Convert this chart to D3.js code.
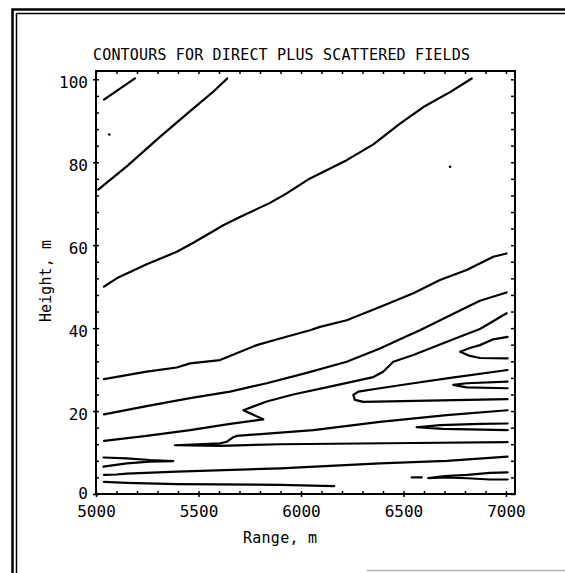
<!DOCTYPE html>
<html lang="en">
<head>
<meta charset="UTF-8">
<title>Contours for direct plus scattered fields</title>
<script src="https://d3js.org/d3.v7.min.js"></script>
<style>
  html, body { margin: 0; padding: 0; background: #fff; }
  svg { display: block; }
  text { font-family: 'DejaVu Sans Mono', 'Liberation Mono', monospace; fill: #000; }
</style>
</head>
<body>
<svg id="chart" width="565" height="573"></svg>
<script>
// axes
const rangeDomain = [5000, 7044];
const heightDomain = [0, 102];
const rangeTicks = [5000, 5500, 6000, 6500, 7000];
const heightTicks = [0, 20, 40, 60, 80, 100];
const rangeMinor = d3.range(5000, 7001, 100);
const heightMinor = d3.range(0, 101, 4);

// contour traces, [range m, height m]
const cTopLeft = [[5039,95.1],[5110,97.5],[5190,100.2]];
const c73 = [[5011,73.4],[5150,79.0],[5312,86.1],[5475,93.0],[5572,97.0],[5640,100.2]];
const c50 = [[5039,50.0],[5101,52.0],[5247,55.4],[5394,58.4],[5475,60.6],[5621,64.8],[5702,66.8],
  [5849,70.2],[5930,72.5],[6044,76.1],[6223,80.5],[6353,84.3],[6483,89.3],[6597,93.3],[6727,96.9],[6833,100.2]];
const c28 = [[5039,27.7],[5247,29.5],[5394,30.5],[5459,31.5],[5605,32.3],[5784,35.9],[5898,37.5],[6044,39.5],
  [6093,40.3],[6223,41.9],[6385,45.1],[6548,48.4],[6678,51.6],[6808,54.0],[6938,57.2],[7003,58.0]];
const c19 = [[5039,19.2],[5247,21.2],[5459,23.1],[5654,24.7],[5833,26.7],[6028,29.2],[6223,31.9],[6385,35.1],
  [6483,37.3],[6580,39.5],[6711,42.7],[6873,46.6],[7003,48.6]];
const c13 = [[5039,12.8],[5247,14.0],[5459,15.4],[5654,16.9],[5816,18.0],[5719,20.2],[5833,22.3],[5962,24.0],
  [6141,25.9],[6353,28.2],[6401,29.5],[6450,31.9],[6548,33.5],[6743,37.3],[6873,39.8],[7003,43.6]];
const c12 = [[7008,20.2],[6711,19.0],[6385,17.4],[6060,15.4],[5686,14.0],[5670,13.7],[5638,12.6],[5605,12.2],
  [5385,11.75],[5605,11.6],[5898,12.0],[6548,12.3],[7008,12.5]];
const cWedge = [[5036,8.8],[5150,8.6],[5263,8.2],[5377,7.95],[5263,7.8],[5150,7.4],[5036,6.6]];
const c5 = [[5039,4.6],[5100,4.7],[5150,4.9],[5394,5.4],[5898,6.2],[6385,7.4],[6711,8.0],[7008,9.0]];
const c3 = [[5039,2.9],[5150,2.7],[5394,2.4],[5898,2.2],[6162,1.9]];
const hook35 = [[7008,37.9],[6938,37.3],[6873,35.9],[6824,35.2],[6776,34.3],[6824,33.3],[6873,32.8],[7008,32.7]];
const hook26 = [[7008,27.1],[6808,26.7],[6743,26.3],[6808,25.7],[7008,25.5]];
const hook24 = [[7008,29.9],[6711,27.9],[6548,26.7],[6385,25.5],[6280,24.7],[6255,23.9],[6263,22.7],[6304,22.2],[7008,22.9]];
const hook16 = [[7008,17.0],[6873,16.9],[6678,16.6],[6564,16.1],[6692,15.7],[7008,15.4]];
const hook4 = [[7008,5.2],[6922,5.1],[6810,4.6],[6702,4.3],[6621,3.85],[6702,4.0],[6810,3.8],[6922,3.5],[7008,3.5]];
const dash4 = [[6540,4.0],[6589,4.0]];
const specks = [[5065,86.7],[6727,78.9]];

const contours = [cTopLeft, c73, c50, c28, c19, c13, c12, cWedge, c5, c3, hook35, hook26, hook24, hook16, hook4, dash4];

const svg = d3.select("#chart");
const plotLeft = 96, plotRight = 515, plotTop = 71, plotBottom = 494;

const x = d3.scaleLinear().domain(rangeDomain).range([plotLeft, plotRight]);
const y = d3.scaleLinear().domain(heightDomain).range([plotBottom, plotTop]);

// outer double border of the scanned page
svg.append("path").attr("d", "M12.5,573V9.5H565").attr("fill", "none").attr("stroke", "#000").attr("stroke-width", 2.5);
svg.append("path").attr("d", "M16.5,573V13.5H565").attr("fill", "none").attr("stroke", "#000").attr("stroke-width", 1.5);
svg.append("line").attr("x1", 367).attr("x2", 565).attr("y1", 570.5).attr("y2", 570.5)
  .attr("stroke", "#b5b5b5").attr("stroke-width", 1.5);

// title
svg.append("text")
  .attr("x", 281.5).attr("y", 60)
  .attr("text-anchor", "middle")
  .attr("font-size", 15)
  .attr("textLength", 377).attr("lengthAdjust", "spacing")
  .text("CONTOURS FOR DIRECT PLUS SCATTERED FIELDS");

// minor ticks, pointing into the plot on all sides
function clean(g) {
  g.select(".domain").remove();
  g.selectAll("line").attr("stroke", "#000").attr("stroke-width", 1.5);
}
svg.append("g").attr("transform", `translate(0,${plotBottom})`)
  .call(d3.axisBottom(x).tickValues(rangeMinor).tickSize(-3).tickFormat("")).call(clean);
svg.append("g").attr("transform", `translate(0,${plotTop})`)
  .call(d3.axisTop(x).tickValues(rangeMinor).tickSize(-3).tickFormat("")).call(clean);
svg.append("g").attr("transform", `translate(${plotLeft},0)`)
  .call(d3.axisLeft(y).tickValues(heightMinor).tickSize(-3).tickFormat("")).call(clean);
svg.append("g").attr("transform", `translate(${plotRight},0)`)
  .call(d3.axisRight(y).tickValues(heightMinor).tickSize(-4).tickFormat("")).call(clean);

// labelled major ticks
const xAxis = svg.append("g").attr("transform", `translate(0,${plotBottom})`)
  .call(d3.axisBottom(x).tickValues(rangeTicks).tickSize(3).tickPadding(9).tickFormat(d3.format("d"))).call(clean);
const yAxis = svg.append("g").attr("transform", `translate(${plotLeft},0)`)
  .call(d3.axisLeft(y).tickValues(heightTicks).tickSize(3).tickPadding(5).tickFormat(d3.format("d"))).call(clean);
[xAxis, yAxis].forEach(g => {
  g.attr("font-family", null).attr("font-size", null);
  g.selectAll("text").attr("font-size", 16).attr("fill", "#000");
});
yAxis.selectAll("text").attr("dy", d => d === 0 ? "0.3em" : "0.5em");

// axis titles
svg.append("text")
  .attr("x", 280).attr("y", 543)
  .attr("text-anchor", "middle").attr("font-size", 15)
  .attr("textLength", 74).attr("lengthAdjust", "spacing")
  .text("Range, m");
svg.append("text")
  .attr("transform", "translate(51,281) rotate(-90)")
  .attr("text-anchor", "middle").attr("font-size", 15)
  .attr("textLength", 82).attr("lengthAdjust", "spacing")
  .text("Height, m");

// plot frame
svg.append("rect")
  .attr("x", plotLeft).attr("y", plotTop)
  .attr("width", plotRight - plotLeft).attr("height", plotBottom - plotTop)
  .attr("fill", "none").attr("stroke", "#000").attr("stroke-width", 2);

// contour lines
const line = d3.line().x(d => x(d[0])).y(d => y(d[1]));
svg.append("g").selectAll("path")
  .data(contours)
  .join("path")
  .attr("d", line)
  .attr("fill", "none")
  .attr("stroke", "#000")
  .attr("stroke-width", 2.2)
  .attr("stroke-linejoin", "round")
  .attr("stroke-linecap", "round");

svg.append("g").selectAll("circle")
  .data(specks)
  .join("circle")
  .attr("cx", d => x(d[0])).attr("cy", d => y(d[1]))
  .attr("r", 1.3).attr("fill", "#000");
</script>
</body>
</html>
